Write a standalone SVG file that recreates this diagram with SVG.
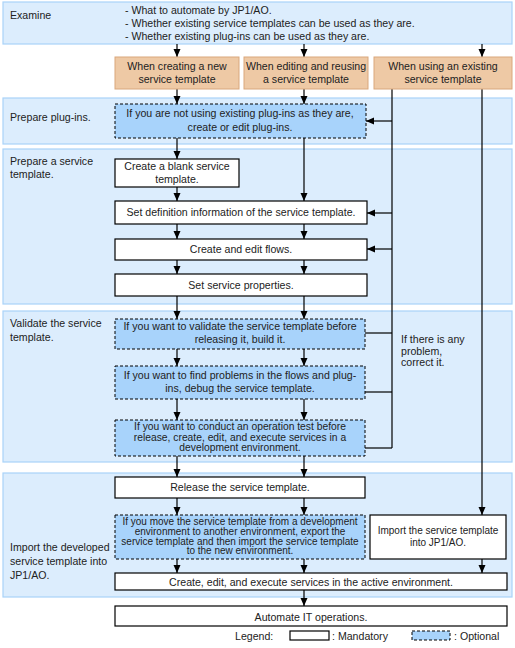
<svg xmlns="http://www.w3.org/2000/svg" width="515" height="648" viewBox="0 0 515 648">
<style>
text{font-family:"Liberation Sans",Arial,sans-serif;font-size:10.6px;fill:#222}
.c{text-anchor:middle}
.sm{font-size:10px}
.md{font-size:10.3px}
.sec{fill:#dcedfd;stroke:#a9d3f8;stroke-width:1.2}
.org{fill:#eec9a5;stroke:#d9a77c;stroke-width:1}
.man{fill:#fff;stroke:#000;stroke-width:1.2}
.opt{fill:#a8d3fb;stroke:#000;stroke-width:1;stroke-dasharray:3,2}
.ln{fill:none;stroke:#000;stroke-width:1.2}
.ar{fill:none;stroke:#000;stroke-width:1.2;marker-end:url(#ah)}
</style>
<defs>
<marker id="ah" markerUnits="userSpaceOnUse" markerWidth="8" markerHeight="8" refX="8" refY="4" orient="auto">
<path d="M0,0.5 L8,4 L0,7.5 z" fill="#000"/>
</marker>
</defs>
<rect width="515" height="648" fill="#fff"/>
<g id="sections">
<rect class="sec" x="3" y="2" width="509" height="42"/>
<rect class="sec" x="3" y="98" width="509" height="46"/>
<rect class="sec" x="3" y="149" width="509" height="155"/>
<rect class="sec" x="3" y="311" width="509" height="151"/>
<rect class="sec" x="3" y="473" width="509" height="124"/>
<text x="10" y="19">Examine</text>
<text x="125" y="14">- What to automate by JP1/AO.</text>
<text x="125" y="27">- Whether existing service templates can be used as they are.</text>
<text x="125" y="40">- Whether existing plug-ins can be used as they are.</text>
<text x="10" y="121">Prepare plug-ins.</text>
<text x="10" y="165">Prepare a service</text>
<text x="10" y="178">template.</text>
<text x="10" y="327">Validate the service</text>
<text x="10" y="341">template.</text>
<text x="10" y="551">Import the developed</text>
<text x="10" y="565">service template into</text>
<text x="10" y="579">JP1/AO.</text>
</g>
<g id="connectors">
<path class="ar" d="M177,44 V57"/>
<path class="ar" d="M304,44 V57"/>
<path class="ar" d="M482,44 V57"/>
<path class="ar" d="M177,89 V104"/>
<path class="ar" d="M304,89 V104"/>
<path class="ar" d="M177,138 V159"/>
<path class="ar" d="M304,138 V201"/>
<path class="ar" d="M177,187 V201"/>
<path class="ar" d="M177,224 V239"/>
<path class="ar" d="M304,224 V239"/>
<path class="ar" d="M177,260 V274"/>
<path class="ar" d="M304,260 V274"/>
<path class="ar" d="M177,296 V319"/>
<path class="ar" d="M304,296 V319"/>
<path class="ar" d="M177,349 V366"/>
<path class="ar" d="M304,349 V366"/>
<path class="ar" d="M177,399 V420"/>
<path class="ar" d="M304,399 V420"/>
<path class="ar" d="M177,456 V477"/>
<path class="ar" d="M304,456 V477"/>
<path class="ar" d="M177,498 V515"/>
<path class="ar" d="M304,498 V515"/>
<path class="ar" d="M177,559 V573"/>
<path class="ar" d="M304,559 V573"/>
<path class="ar" d="M304,590 V606"/>
<path class="ln" d="M392,79 V448"/>
<path class="ar" d="M392,121 H366"/>
<path class="ar" d="M392,213 H367"/>
<path class="ar" d="M392,249 H367"/>
<path class="ln" d="M365,333 H392"/>
<path class="ln" d="M365,392 H392"/>
<path class="ln" d="M365,448 H392"/>
<path class="ar" d="M482,89 V515"/>
<path class="ar" d="M482,559 V573"/>
</g>
<g id="n-new"><rect class="org" x="115" y="57" width="124" height="32"/><text class="c" x="177" y="70">When creating a new</text><text class="c" x="177" y="83">service template</text></g>
<g id="n-edit"><rect class="org" x="244" y="57" width="124" height="32"/><text class="c" x="306" y="70">When editing and reusing</text><text class="c" x="306" y="83">a service template</text></g>
<g id="n-use"><rect class="org" x="374" y="57" width="138" height="32"/><text class="c" x="443" y="70">When using an existing</text><text class="c" x="443" y="83">service template</text></g>
<g id="n-plugins"><rect class="opt" x="115" y="104" width="251" height="34"/><text class="c" x="240" y="117">If you are not using existing plug-ins as they are,</text><text class="c" x="240" y="131">create or edit plug-ins.</text></g>
<g id="n-blank"><rect class="man" x="115" y="159" width="124" height="28"/><text class="c" x="177" y="170">Create a blank service</text><text class="c" x="177" y="183">template.</text></g>
<g id="n-def"><rect class="man" x="115" y="201" width="252" height="23"/><text class="c" x="241" y="216">Set definition information of the service template.</text></g>
<g id="n-flows"><rect class="man" x="115" y="239" width="252" height="21"/><text class="c" x="241" y="253">Create and edit flows.</text></g>
<g id="n-props"><rect class="man" x="115" y="274" width="252" height="22"/><text class="c" x="241" y="289">Set service properties.</text></g>
<g id="n-build"><rect class="opt" x="115" y="319" width="250" height="30"/><text class="c" x="240" y="330">If you want to validate the service template before</text><text class="c" x="240" y="343">releasing it, build it.</text></g>
<g id="n-debug"><rect class="opt" x="115" y="366" width="250" height="33"/><text class="c" x="240" y="379">If you want to find problems in the flows and plug-</text><text class="c" x="240" y="392">ins, debug the service template.</text></g>
<g id="n-test"><rect class="opt" x="115" y="420" width="250" height="36"/><text class="c md" x="240" y="429.5">If you want to conduct an operation test before</text><text class="c md" x="240" y="440.5">release, create, edit, and execute services in a</text><text class="c md" x="240" y="451">development environment.</text></g>
<text x="401" y="343">If there is any</text>
<text x="401" y="355">problem,</text>
<text x="401" y="366">correct it.</text>
<g id="n-release"><rect class="man" x="115" y="477" width="250" height="21"/><text class="c" x="240" y="491">Release the service template.</text></g>
<g id="n-move"><rect class="opt" x="115" y="515" width="250" height="44"/><text class="c sm" x="240" y="524.5">If you move the service template from a development</text><text class="c sm" x="240" y="534.5">environment to another environment, export the</text><text class="c sm" x="240" y="544.5">service template and then import the service template</text><text class="c sm" x="240" y="554">to the new environment.</text></g>
<g id="n-import"><rect class="man" x="370" y="515" width="136" height="44"/><text class="c sm" x="438" y="534">Import the service template</text><text class="c sm" x="438" y="546">into JP1/AO.</text></g>
<g id="n-exec"><rect class="man" x="115" y="573" width="392" height="17"/><text class="c" x="311" y="586">Create, edit, and execute services in the active environment.</text></g>
<g id="n-automate"><rect class="man" x="115" y="606" width="392" height="20"/><text class="c" x="311" y="621">Automate IT operations.</text></g>
<g id="legend">
<text x="235" y="640">Legend:</text>
<rect class="man" x="290" y="631" width="39" height="9" stroke-width="1"/>
<text x="332" y="640">: Mandatory</text>
<rect class="opt" x="412" y="631" width="38" height="9"/>
<text x="454" y="640">: Optional</text>
</g>
</svg>
